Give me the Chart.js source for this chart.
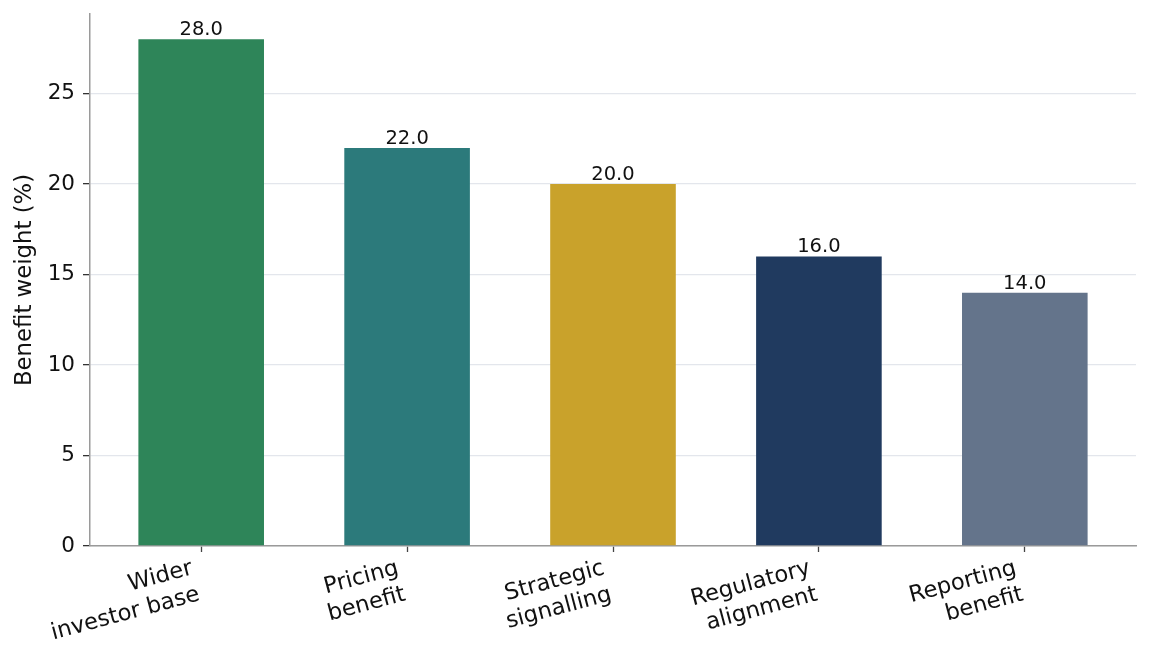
<!DOCTYPE html>
<html>
<head>
<meta charset="utf-8">
<title>Benefit weight</title>
<script src="https://cdn.jsdelivr.net/npm/chart.js@4.4.1/dist/chart.umd.min.js"></script>
<style>
  html, body { margin: 0; padding: 0; background: #fff; }
  #wrap { width: 1151px; height: 656px; position: relative; }
</style>
</head>
<body>
<div id="wrap"><canvas id="benefitChart"></canvas></div>
<script>
"use strict";

// chart data
const categories = [
  ["Wider", "investor base"],
  ["Pricing", "benefit"],
  ["Strategic", "signalling"],
  ["Regulatory", "alignment"],
  ["Reporting", "benefit"]
];
const weights = [28.0, 22.0, 20.0, 16.0, 14.0];
const barColors = ["#2e8559", "#2c7a7b", "#c9a22b", "#203a5f", "#64748b"];
const yTicks = [0, 5, 10, 15, 20, 25];

const FONT = '"DejaVu Sans", "Liberation Sans", sans-serif';

// value text above each bar
const valueLabels = {
  id: 'valueLabels',
  afterDatasetsDraw(chart) {
    const ctx = chart.ctx;
    const meta = chart.getDatasetMeta(0);
    ctx.save();
    ctx.font = '19.5px ' + FONT;
    ctx.fillStyle = '#111';
    ctx.textAlign = 'center';
    ctx.textBaseline = 'alphabetic';
    meta.data.forEach(function(bar, i) {
      ctx.fillText(weights[i].toFixed(1), bar.x, bar.y - 4);
    });
    ctx.restore();
  }
};

const ctx = document.getElementById('benefitChart').getContext('2d');
const benefitChart = new Chart(ctx, {
  type: 'bar',
  data: {
    datasets: [{
      label: 'Benefit weight (%)',
      data: weights.map(function(w, i) { return { x: i, y: w }; }),
      backgroundColor: barColors,
      borderWidth: 0,
      categoryPercentage: 1,
      barPercentage: 0.61
    }]
  },
  options: {
    responsive: true,
    maintainAspectRatio: false,
    animation: false,
    layout: { padding: { top: 14, right: 15, left: 0, bottom: 0 } },
    plugins: {
      legend: { display: false },
      tooltip: { enabled: false }
    },
    scales: {
      x: {
        type: 'linear',
        offset: false,
        min: -0.54,
        max: 4.54,
        afterFit: function(scale) { scale.height = 110; },
        afterBuildTicks: function(scale) {
          scale.ticks = categories.map(function(c, i) { return { value: i }; });
        },
        grid: {
          offset: false,
          drawOnChartArea: false,
          drawTicks: true,
          tickLength: 6,
          tickColor: '#444',
          tickWidth: 1.3
        },
        border: { color: '#9a9a9a', width: 1.5 },
        ticks: {
          autoSkip: false,
          includeBounds: false,
          minRotation: 15,
          maxRotation: 15,
          padding: 3,
          labelOffset: -9,
          color: '#111',
          font: { family: FONT, size: 22.6 },
          callback: function(value) { return categories[value]; }
        }
      },
      y: {
        min: 0,
        max: 29.4,
        afterFit: function(scale) {
          scale.width = 90;
          scale.paddingTop = 0;
          scale.paddingBottom = 0;
        },
        afterBuildTicks: function(scale) {
          scale.ticks = yTicks.map(function(v) { return { value: v }; });
        },
        grid: {
          color: '#e3e6ec',
          lineWidth: 1.3,
          tickLength: 7,
          tickColor: '#333',
          tickWidth: 1.3
        },
        border: { color: '#9a9a9a', width: 1.5 },
        ticks: {
          padding: 8,
          color: '#111',
          font: { family: FONT, size: 21.5 }
        },
        title: {
          display: true,
          text: 'Benefit weight (%)',
          color: '#111',
          padding: { top: 11, bottom: 0 },
          font: { family: FONT, size: 22.8 }
        }
      }
    }
  },
  plugins: [valueLabels]
});
</script>
</body>
</html>
